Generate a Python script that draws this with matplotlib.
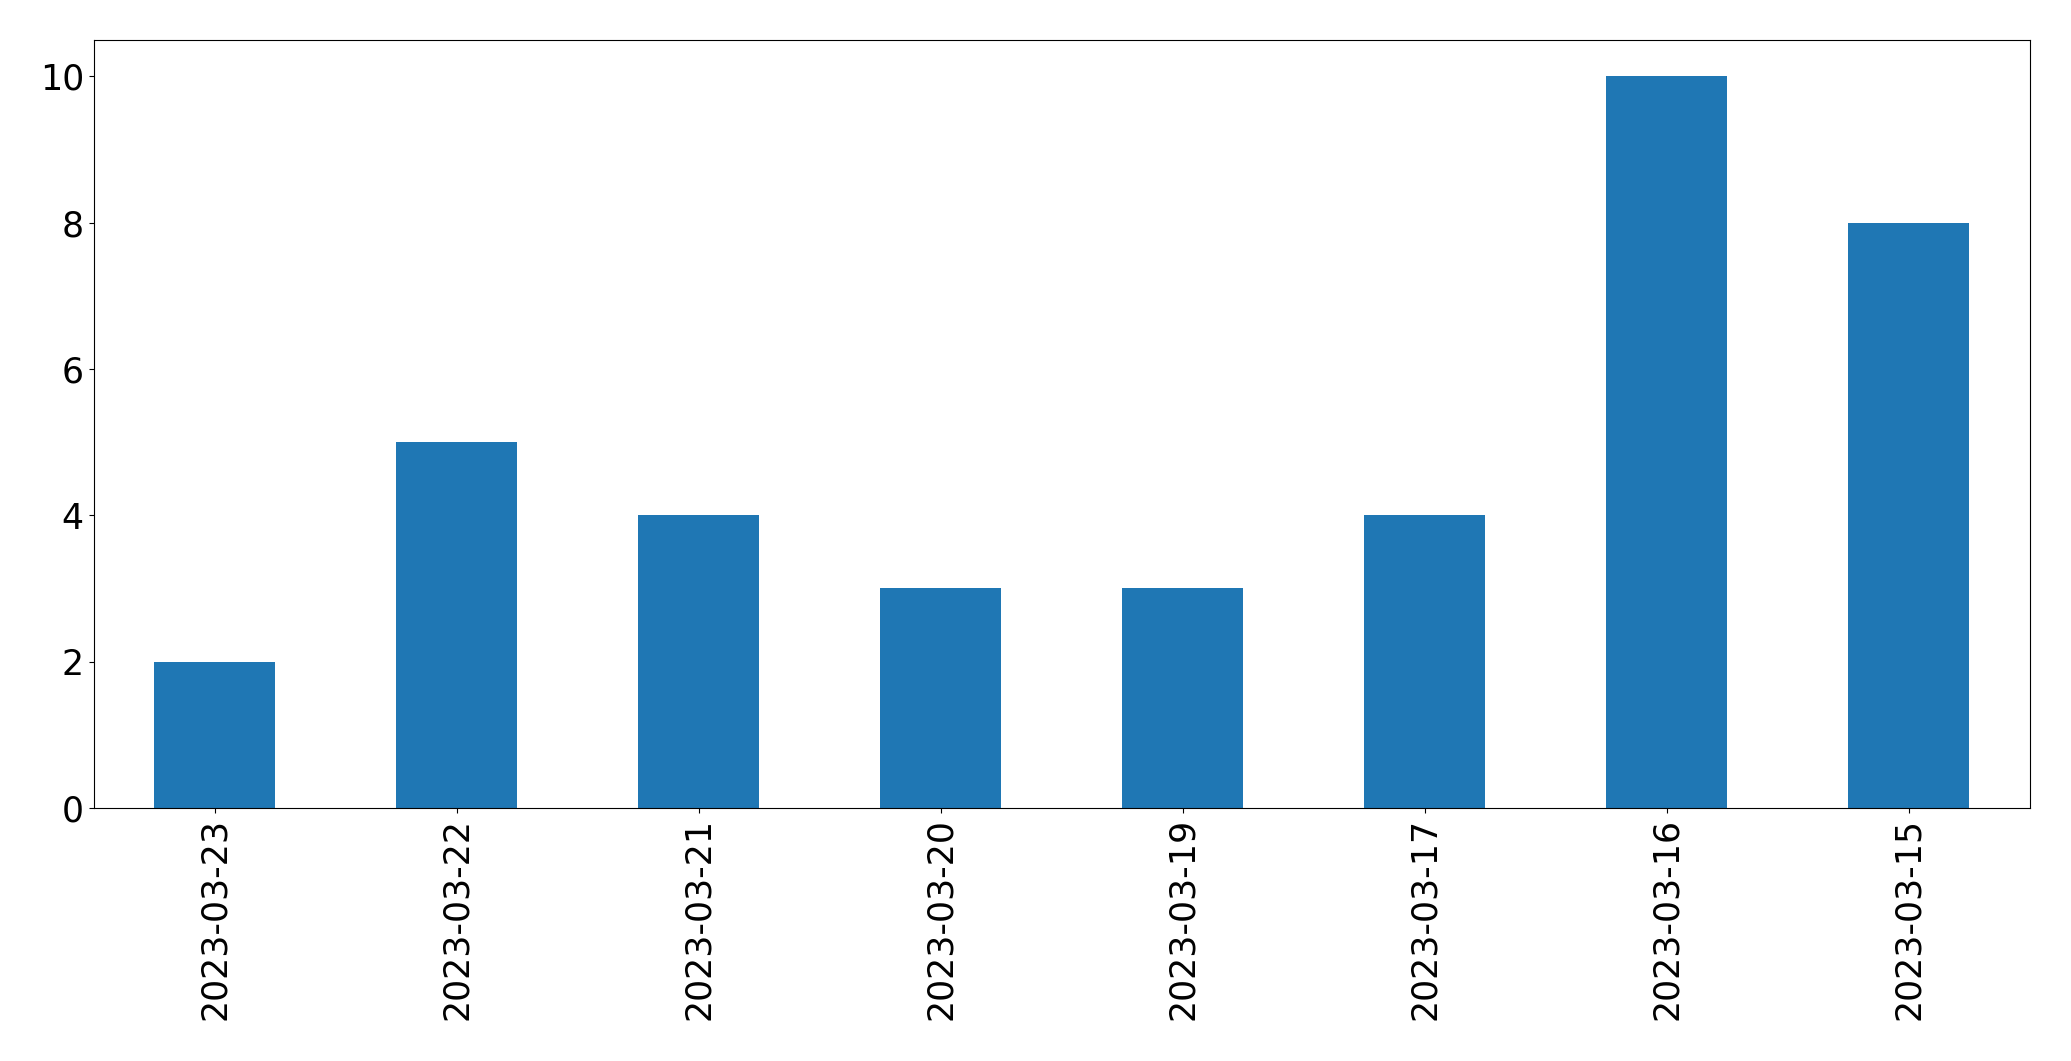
import matplotlib
matplotlib.use("Agg")
import matplotlib.pyplot as plt

dates = ["2023-03-23", "2023-03-22", "2023-03-21", "2023-03-20",
         "2023-03-19", "2023-03-17", "2023-03-16", "2023-03-15"]
counts = [2, 5, 4, 3, 3, 4, 10, 8]

fig = plt.figure(figsize=(20.71, 10.61), dpi=100)
ax = fig.add_axes([0.0452, 0.2384, 0.9350, 0.7243])
x = list(range(len(dates)))
ax.bar(x, counts, width=0.5, color="#1f77b4")
ax.set_xlim(-0.5, len(dates) - 0.5)
ax.set_ylim(0, 10.5)
ax.set_xticks(x)
ax.set_xticklabels(dates, rotation=90)
ax.tick_params(labelsize=25)
fig.savefig("out.png", dpi=100)
